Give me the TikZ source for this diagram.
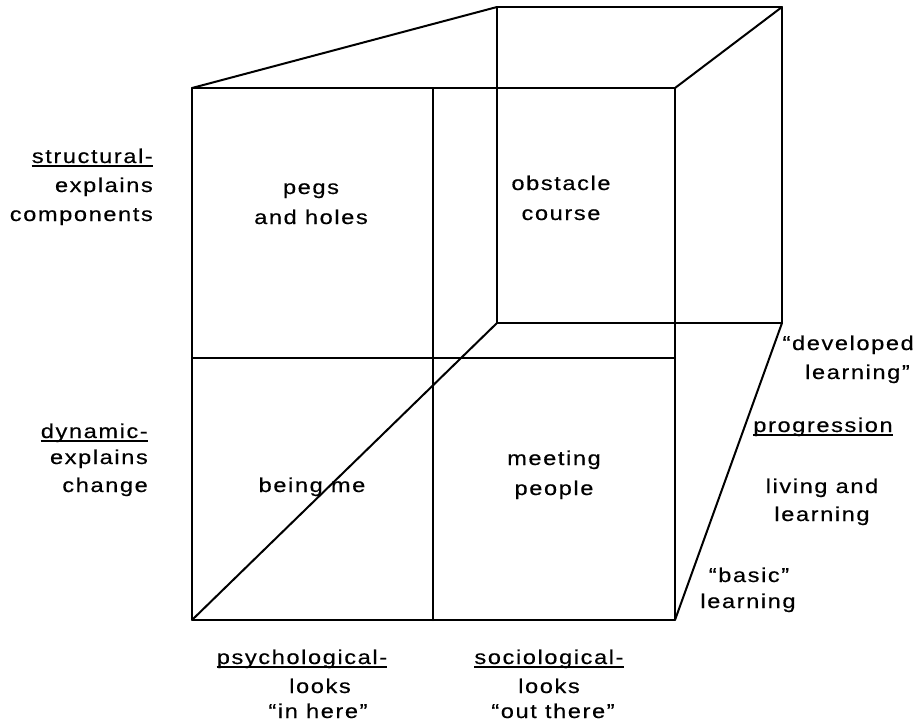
\documentclass[tikz,border=0pt]{standalone}
\usepackage{fontspec}
\setmainfont{Liberation Sans}[FakeStretch=1.18,LetterSpace=8,FakeBold=0.4]
\begin{document}
\begin{tikzpicture}[x=1pt,y=-1pt,
  edge/.style={line width=2pt, line cap=round, line join=round},
  lbl/.style={inner sep=0pt, font=\fontsize{20}{24}\selectfont},
  ul/.style={line width=1.4pt}]
\useasboundingbox (0,0) rectangle (922,724);
% front face
\coordinate (FTL) at (192,88);
\coordinate (FTR) at (675,88);
\coordinate (FBR) at (675,620);
\coordinate (FBL) at (192,620);
\coordinate (FTM) at (433,88);
\coordinate (FBM) at (433,620);
\coordinate (FML) at (192,358);
\coordinate (FMR) at (675,358);
% back face
\coordinate (BTL) at (497,7);
\coordinate (BTR) at (782,7);
\coordinate (BBR) at (782,323);
\coordinate (BBL) at (497,323);
\draw[edge] (FTL) -- (FTR) -- (FBR) -- (FBL) -- cycle;
\draw[edge] (FTM) -- (FBM);
\draw[edge] (FML) -- (FMR);
\draw[edge] (BTL) -- (BTR) -- (BBR) -- (BBL) -- cycle;
\draw[edge] (FTL) -- (BTL);
\draw[edge] (FTR) -- (BTR);
\draw[edge] (FBR) -- (BBR);
\draw[edge] (FBL) -- (BBL);
% cell texts
\node[lbl, anchor=base] (c1a) at (311,194) {pegs};
\node[lbl, anchor=base] (c1b) at (311,224) {and holes};
\node[lbl, anchor=base] (c2a) at (561,190) {obstacle};
\node[lbl, anchor=base] (c2b) at (561,220) {course};
\node[lbl, anchor=base] (c3) at (312,492) {being me};
\node[lbl, anchor=base] (c4a) at (554,465) {meeting};
\node[lbl, anchor=base] (c4b) at (554,495) {people};
% left labels
\node[lbl, anchor=base east] (s1) at (153,163) {structural-};
\node[lbl, anchor=base east] (s2) at (153,192) {explains};
\node[lbl, anchor=base east] (s3) at (153,221) {components};
\node[lbl, anchor=base east] (d1) at (148,438) {dynamic-};
\node[lbl, anchor=base east] (d2) at (148,464) {explains};
\node[lbl, anchor=base east] (d3) at (148,492) {change};
% right labels
\node[lbl, anchor=base east] (r1) at (914,350) {“developed};
\node[lbl, anchor=base east] (r2) at (910,379) {learning”};
\node[lbl, anchor=base] (r3) at (823,432) {progression};
\node[lbl, anchor=base] (r4) at (822,493) {living and};
\node[lbl, anchor=base] (r5) at (822,521) {learning};
\node[lbl, anchor=base] (r6) at (749,582) {“basic”};
\node[lbl, anchor=base] (r7) at (748,608) {learning};
% bottom labels
\node[lbl, anchor=base] (b1) at (302,664) {psychological-};
\node[lbl, anchor=base] (b2) at (320,693) {looks};
\node[lbl, anchor=base] (b3) at (318,718) {“in here”};
\node[lbl, anchor=base] (b4) at (549,664) {sociological-};
\node[lbl, anchor=base] (b5) at (549,693) {looks};
\node[lbl, anchor=base] (b6) at (553,718) {“out there”};
% underlines
\foreach \n in {s1,d1,r3,b1,b4}
  \draw[ul] ([yshift=-3pt]\n.base west) -- ([yshift=-3pt]\n.base east);
\end{tikzpicture}
\end{document}
